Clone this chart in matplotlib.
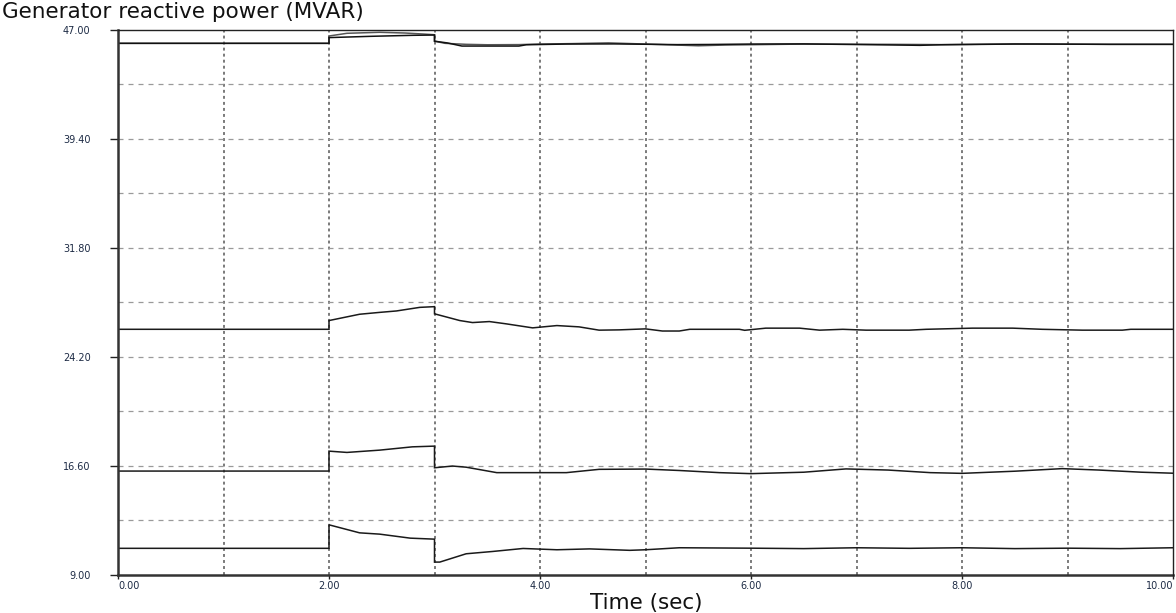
import matplotlib
matplotlib.use("Agg")
import matplotlib.pyplot as plt
from matplotlib.ticker import FixedLocator

# Generator reactive power traces (MVAR) against time (s)
t_gen1 = [0, 2, 2, 2.17, 2.48, 2.72, 2.89, 3, 3, 3.1, 3.3, 3.5, 3.8, 4.0, 4.3,
          4.65, 5.0, 5.5, 5.75, 6.5, 7.3, 7.8, 8.5, 9.4, 10]
q_gen1 = [46.07, 46.07, 46.58, 46.77, 46.84, 46.79, 46.72, 46.67, 46.22, 46.07,
          46.0, 45.97, 45.98, 46.02, 46.05, 46.1, 46.02, 45.9, 45.95, 46.02,
          46.0, 45.98, 46.03, 46.0, 46.0]

t_gen2 = [0, 2, 2, 2.4, 2.8, 3, 3, 3.12, 3.26, 3.5, 3.8, 3.87, 4.25, 4.7, 5.3,
          5.6, 6.0, 6.5, 7.3, 7.6, 7.8, 8.5, 8.7, 9.4, 10]
q_gen2 = [46.07, 46.07, 46.47, 46.56, 46.63, 46.65, 46.22, 46.1, 45.88, 45.88,
          45.88, 45.97, 46.02, 46.03, 45.98, 45.99, 46.02, 46.03, 45.96, 45.93,
          45.97, 46.02, 46.02, 46.0, 46.0]

t_gen3 = [0, 2, 2, 2.29, 2.48, 2.64, 2.86, 3, 3, 3.24, 3.36, 3.52, 3.68, 3.93,
          4.16, 4.37, 4.56, 4.75, 5.0, 5.16, 5.32, 5.42, 5.89, 5.94, 6.14, 6.46,
          6.65, 6.87, 7.09, 7.5, 7.66, 8.1, 8.48, 8.76, 9.14, 9.52, 9.6, 10]
q_gen3 = [26.12, 26.12, 26.73, 27.17, 27.3, 27.4, 27.65, 27.7, 27.2, 26.73,
          26.59, 26.66, 26.5, 26.22, 26.38, 26.29, 26.06, 26.08, 26.15, 26.0,
          26.0, 26.12, 26.12, 26.05, 26.2, 26.2, 26.06, 26.12, 26.06, 26.06,
          26.12, 26.2, 26.2, 26.12, 26.06, 26.06, 26.12, 26.12]

t_gen4 = [0, 2, 2, 2.17, 2.48, 2.79, 3, 3, 3.17, 3.3, 3.59, 4.0, 4.25, 4.56,
          5.0, 5.32, 5.7, 6.0, 6.5, 6.9, 7.3, 7.7, 8.0, 8.5, 8.95, 9.3, 9.7, 10]
q_gen4 = [16.23, 16.23, 17.62, 17.53, 17.69, 17.92, 17.97, 16.46, 16.58, 16.5,
          16.12, 16.12, 16.12, 16.35, 16.37, 16.27, 16.12, 16.05, 16.15, 16.38,
          16.3, 16.12, 16.07, 16.22, 16.4, 16.3, 16.15, 16.08]

t_gen5 = [0, 2, 2, 2.29, 2.48, 2.77, 3, 3, 3.05, 3.3, 3.55, 3.84, 4.16, 4.47,
          4.85, 5.0, 5.32, 6.0, 6.5, 7.0, 7.5, 8.0, 8.5, 9.0, 9.5, 10]
q_gen5 = [10.84, 10.84, 12.48, 11.92, 11.83, 11.55, 11.48, 9.88, 9.88, 10.46,
          10.62, 10.83, 10.74, 10.8, 10.7, 10.74, 10.88, 10.85, 10.82, 10.88,
          10.84, 10.88, 10.82, 10.85, 10.82, 10.88]

x_ticks = [0, 2, 4, 6, 8, 10]
x_labels = ["0.00", "2.00", "4.00", "6.00", "8.00", "10.00"]
x_grid_minor = [1, 3, 5, 7, 9]
y_ticks = [9.0, 16.6, 24.2, 31.8, 39.4, 47.0]
y_labels = ["9.00", "16.60", "24.20", "31.80", "39.40", "47.00"]
y_grid_minor = [12.8, 20.4, 28.0, 35.6, 43.2]

W, H = 1176, 613
fig = plt.figure(figsize=(W / 100, H / 100), dpi=100)
ax = fig.add_axes([118 / W, 1 - 574.7 / H, (1173 - 118) / W, (574.7 - 30) / H])

ax.set_xlim(0, 10)
ax.set_ylim(9, 47)

# grid: dashed horizontals every 3.8 MVAR, dotted verticals every second
ax.yaxis.set_major_locator(FixedLocator(y_ticks))
ax.yaxis.set_minor_locator(FixedLocator(y_grid_minor))
ax.xaxis.set_major_locator(FixedLocator(x_ticks))
ax.xaxis.set_minor_locator(FixedLocator(x_grid_minor))
ax.grid(True, axis="y", which="both", color="#9a9a9a", linestyle=(0, (4, 4)), linewidth=0.9)
ax.grid(True, axis="x", which="both", color="#7a7a7a", linestyle=(0, (1.5, 1.6)), linewidth=1.4)
ax.set_axisbelow(True)

line_kw = dict(linewidth=1.1, solid_joinstyle="miter")
ax.plot(t_gen1, q_gen1, color="#555555", **line_kw)
ax.plot(t_gen2, q_gen2, color="#111111", **line_kw)
ax.plot(t_gen3, q_gen3, color="#1a1a1a", **line_kw)
ax.plot(t_gen4, q_gen4, color="#1a1a1a", **line_kw)
ax.plot(t_gen5, q_gen5, color="#1a1a1a", **line_kw)

for side in ("left", "bottom"):
    ax.spines[side].set_linewidth(1.8)
    ax.spines[side].set_color("#333333")
for side in ("top", "right"):
    ax.spines[side].set_linewidth(1.0)
    ax.spines[side].set_color("#222222")
    ax.spines[side].set_zorder(3)

tick_font = dict(family="DejaVu Sans", size=7, color="#1c2a44")
ax.set_yticks(y_ticks)
ax.set_yticklabels(y_labels, **tick_font)
ax.set_xticks(x_ticks)
ax.set_xticklabels(x_labels, **tick_font)
ax.tick_params(axis="y", which="major", length=5.8, width=1.0, color="#222222", pad=14)
ax.tick_params(axis="x", which="major", length=2.8, width=1.0, color="#222222", pad=1.5)
ax.tick_params(which="minor", length=0)
xl = ax.get_xticklabels()
xl[0].set_horizontalalignment("left")
xl[-1].set_horizontalalignment("right")

# the frame edges carry no grid line of their own
x_grid = ax.xaxis.get_gridlines()
x_grid[0].set_visible(False)
x_grid[-1].set_visible(False)
y_grid = ax.yaxis.get_gridlines()
y_grid[0].set_visible(False)
y_grid[-1].set_visible(False)

label_font = dict(family="DejaVu Sans", size=15.5, color="#111111")
fig.text(2 / W, 1 - 12 / H, "Generator reactive power (MVAR)", ha="left", va="center", **label_font)
fig.text(646 / W, 1 - 603 / H, "Time (sec)", ha="center", va="center", **label_font)

fig.savefig("out.png", dpi=100)
